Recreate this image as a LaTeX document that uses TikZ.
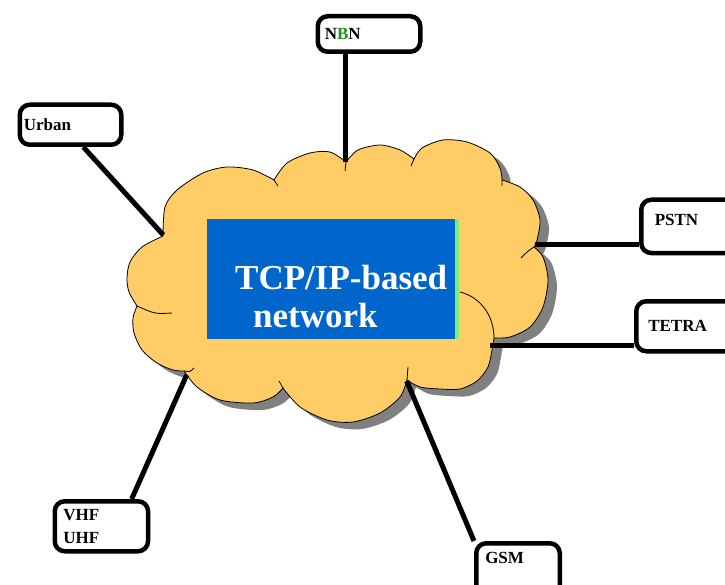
\documentclass[tikz,border=0pt]{standalone}
\usepackage{fontspec}
\setmainfont{Liberation Serif}
\definecolor{cloudfill}{RGB}{255,204,102}
\definecolor{cloudshade}{RGB}{128,128,128}
\definecolor{netblue}{RGB}{0,102,204}
\definecolor{edgegreen}{RGB}{120,240,120}
\definecolor{bgreen}{RGB}{30,150,30}
\begin{document}
\begin{tikzpicture}[
		x=1pt, y=-1pt,
		link/.style={line width=5pt},
		puff/.style={draw=black, line width=0.8pt},
		cloudshadow/.style={fill=cloudshade},
		cloudbody/.style={fill=cloudfill, puff},
		nettext/.style={anchor=base west, inner sep=0pt, text=white, font=\fontsize{35}{42}\selectfont\bfseries},
		endbox/.style={draw, fill=white, line width=4.5pt, rounded corners=10pt, anchor=north west, align=left, inner ysep=0pt, font=\fontsize{17}{23.3}\selectfont\bfseries},
	]
		\useasboundingbox (0,0) rectangle (725,585);
		\clip (0,0) rectangle (725,585);

		\foreach \ox/\oy/\s in {9/7/cloudshadow, 0/0/cloudbody}{
			\path[shift={(\ox,\oy)}, \s]
				plot[smooth] coordinates {(163,236) (165,207) (177,190) (203,173) (227,167) (253,170) (274,180)}
				-- plot[smooth] coordinates {(274,180) (287,163) (310,153) (330,152) (346,162)}
				-- plot[smooth] coordinates {(346,162) (358,150) (380,145) (400,150) (414,159)}
				-- plot[smooth] coordinates {(414,159) (422,148) (443,140) (467,142) (490,153) (500,168) (502,180)}
				-- plot[smooth] coordinates {(502,180) (520,187) (533,200) (540,220) (537,240) (534,247)}
				-- plot[smooth] coordinates {(534,247) (543,257) (548,280) (543,307) (530,327) (510,337) (494,338)}
				-- plot[smooth] coordinates {(494,338) (492,350) (488,367) (477,381) (460,389) (440,389) (420,387) (407,380)}
				-- plot[smooth] coordinates {(407,380) (400,397) (380,413) (353,422) (327,420) (300,407) (283,388)}
				-- plot[smooth] coordinates {(283,388) (273,397) (253,403) (220,400) (197,387) (184,371)}
				-- plot[smooth] coordinates {(184,371) (173,370) (157,363) (142,350) (134,333) (133,318) (137,306)}
				-- plot[smooth] coordinates {(137,306) (129,292) (127,278) (130,262) (142,247) (163,236)}
				-- cycle;
		}
		\draw[puff] (137,306) .. controls (155,314) .. (172,313)
			(184,371) .. controls (190,372) .. (194,368)
			(283,388) .. controls (281,385) .. (279,381)
			(407,380) .. controls (408,374) .. (408,367)
			(534,247) .. controls (528,251) .. (521,258)
			(460,292) .. controls (480,297) and (494,315) .. (494,338)
			(502,180) -- (502,186)
			(414,159) .. controls (412,162) .. (411,166)
			(346,162) -- (345,171)
			(274,180) .. controls (276,183) .. (278,186);

		\node[fill=netblue, inner sep=0pt, minimum width=247.7pt, minimum height=120pt] (ipbox) at (331.2,279.3) {};
		\fill[edgegreen] (455,219.3) rectangle (459,339.3);
		\node[nettext] (tcp) at (235,289) {TCP/IP-based};
		\node[nettext] (netw) at (253,327) {network};

		\node[endbox, text width=88.5pt, inner xsep=7pt, minimum height=35.5pt] (nbn) at (315.5,14) {N\textcolor{bgreen}{B}N};
		\node[endbox, text width=93.5pt, inner xsep=4pt, minimum height=40pt] (urban) at (17.5,102.5) {Urban};
		\node[endbox, text width=83pt, inner xsep=13.5pt, minimum height=53.3pt, text depth=13pt] (pstn) at (639,197.5) {PSTN};
		\node[endbox, text width=86pt, inner xsep=12pt, minimum height=50pt] (tetra) at (634,299) {TETRA};
		\node[endbox, text width=76.3pt, inner xsep=8.5pt, minimum height=50pt] (vhf) at (52.5,499) {VHF\\UHF};
		\node[endbox, text width=65.5pt, inner xsep=9pt, minimum height=59pt, text depth=30pt] (gsm) at (474,541) {GSM};

		\coordinate (cNBN) at (345.7,162);
		\coordinate (cUrban) at (163.3,235);
		\coordinate (cPSTN) at (535,245);
		\coordinate (cTETRA) at (490,345);
		\coordinate (cVHF) at (186.7,375);
		\coordinate (cGSM) at (406.7,381);

		\draw[link] (cNBN |- nbn.south) -- (cNBN);
		\draw[link] (urban.-60) -- (cUrban);
		\draw[link] (pstn.west |- cPSTN) -- (cPSTN);
		\draw[link] (tetra.west |- cTETRA) -- (cTETRA);
		\draw[link] (vhf.42) -- (cVHF);
		\draw[link] (gsm.north west) -- (cGSM);
	\end{tikzpicture}
\end{document}
